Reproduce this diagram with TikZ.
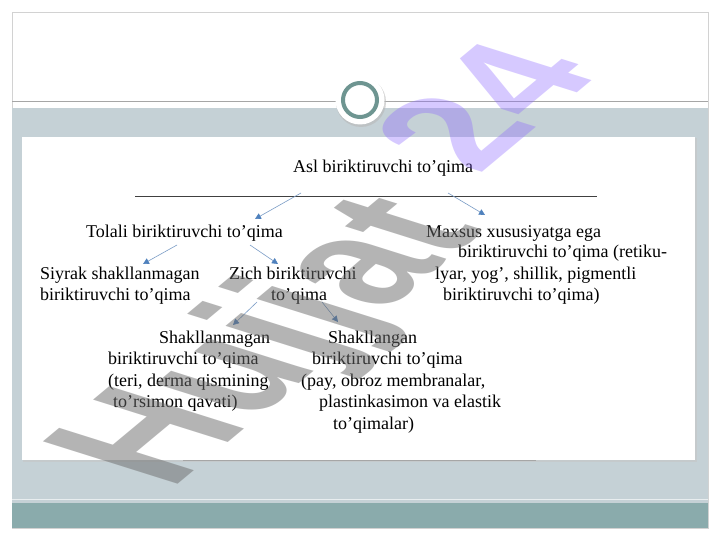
\documentclass[tikz,border=0pt]{standalone}
\usepackage{fontspec}
\setmainfont{Liberation Serif}
\newfontfamily\wmfont{Liberation Sans}
\usetikzlibrary{arrows.meta}
\definecolor{bandc}{HTML}{C5D1D6}
\definecolor{tealc}{HTML}{8AABAC}
\definecolor{ringc}{HTML}{6E9591}
\definecolor{arrc}{HTML}{4F81BD}
\definecolor{arrl}{HTML}{7A9CC6}
\definecolor{wmgray}{gray}{0.42}
\definecolor{wmpurple}{rgb}{0.55,0.4,1.0}
\begin{document}
\begin{tikzpicture}[x=1pt,y=-1pt,
  txt/.style={anchor=base west, inner sep=0pt, font=\fontsize{18}{21}\selectfont},
  conn/.style={draw=arrl, line width=0.6pt, -{Triangle[length=6pt,width=6pt,color=arrc]}},
  wmark/.style={transform shape, anchor=base west, inner sep=0pt,
    font=\wmfont\bfseries\fontsize{200}{200}\selectfont}]
\useasboundingbox (0,0) rectangle (720,540);
\fill[white] (0,0) rectangle (720,540);
% slide frame and bands
\draw[gray!35, line width=0.8pt] (12,12) rectangle (708,528);
\fill[bandc] (12,108) rectangle (708,503);
\fill[tealc] (12,503) rectangle (708,528);
\draw[white!60!bandc, line width=1pt] (12,499) -- (708,499);
\draw[gray!70, line width=0.6pt] (12,101) -- (708,101);
% content panel
\fill[gray!45, opacity=0.6] (23,138.5) rectangle (697,462);
\fill[white] (22,137) rectangle (695,460);
\draw[gray!70, line width=0.7pt] (183,460.5) -- (536,460.5);
% ornament circle
\fill[gray!55, opacity=0.6] (361,102) circle (25);
\fill[white] (360,100) circle (24.5);
\draw[ringc, line width=4pt] (360,100) circle (17);
% texts
\node[txt] (root) at (293,173) {Asl biriktiruvchi to’qima};
\coordinate (hl) at (135,196);
\coordinate (hr) at (597,196);
\draw[black!75, line width=0.8pt] (hl) -- (hr);
\node[txt] (tol) at (86,237) {Tolali biriktiruvchi to’qima};
\node[txt] (mx1) at (426,237) {Maxsus xususiyatga ega};
\node[txt] (mx2) at (458,258) {biriktiruvchi to’qima (retiku-};
\node[txt] (mx3) at (435,279) {lyar, yog’, shillik, pigmentli};
\node[txt] (mx4) at (443,300) {biriktiruvchi to’qima)};
\node[txt] (si1) at (40,279) {Siyrak shakllanmagan};
\node[txt] (si2) at (40,300) {biriktiruvchi to’qima};
\node[txt] (zi1) at (229,279) {Zich biriktiruvchi};
\node[txt] (zi2) at (271,300) {to’qima};
\node[txt] (sm1) at (159,343) {Shakllanmagan};
\node[txt] (sm2) at (108,364) {biriktiruvchi to’qima};
\node[txt] (sm3) at (108,386) {(teri, derma qismining};
\node[txt] (sm4) at (113,407) {to’rsimon qavati)};
\node[txt] (sh1) at (328,343) {Shakllangan};
\node[txt] (sh2) at (312,364) {biriktiruvchi to’qima};
\node[txt] (sh3) at (301,386) {(pay, obroz membranalar,};
\node[txt] (sh4) at (319,407) {plastinkasimon va elastik};
\node[txt] (sh5) at (333,429) {to’qimalar)};
% connectors
\coordinate (a1) at (301,193); \coordinate (a2) at (255,219);
\coordinate (b1) at (448,193); \coordinate (b2) at (485,215);
\coordinate (c1) at (177,245); \coordinate (c2) at (143,264);
\coordinate (d1) at (250,245); \coordinate (d2) at (278,264);
\coordinate (e1) at (257,302); \coordinate (e2) at (233,325);
\coordinate (f1) at (322,302); \coordinate (f2) at (338,322);
\draw[conn] (a1) -- (a2);
\draw[conn] (b1) -- (b2);
\draw[conn] (c1) -- (c2);
\draw[conn] (d1) -- (d2);
\draw[conn] (e1) -- (e2);
\draw[conn] (f1) -- (f2);
% watermark
\begin{scope}[cm={0.565,0.47,-0.979,0.308,(170.8,490.4)}]
\node[wmark, text=wmgray, text opacity=0.5] (wm1) at (0,0) {Hujjat};
\end{scope}
\begin{scope}[cm={0.561,0.4675,-0.832,0.262,(478.2,175.6)}]
\node[wmark, text=wmpurple, text opacity=0.35] (wm2) at (0,0) {24};
\end{scope}
\end{tikzpicture}
\end{document}
